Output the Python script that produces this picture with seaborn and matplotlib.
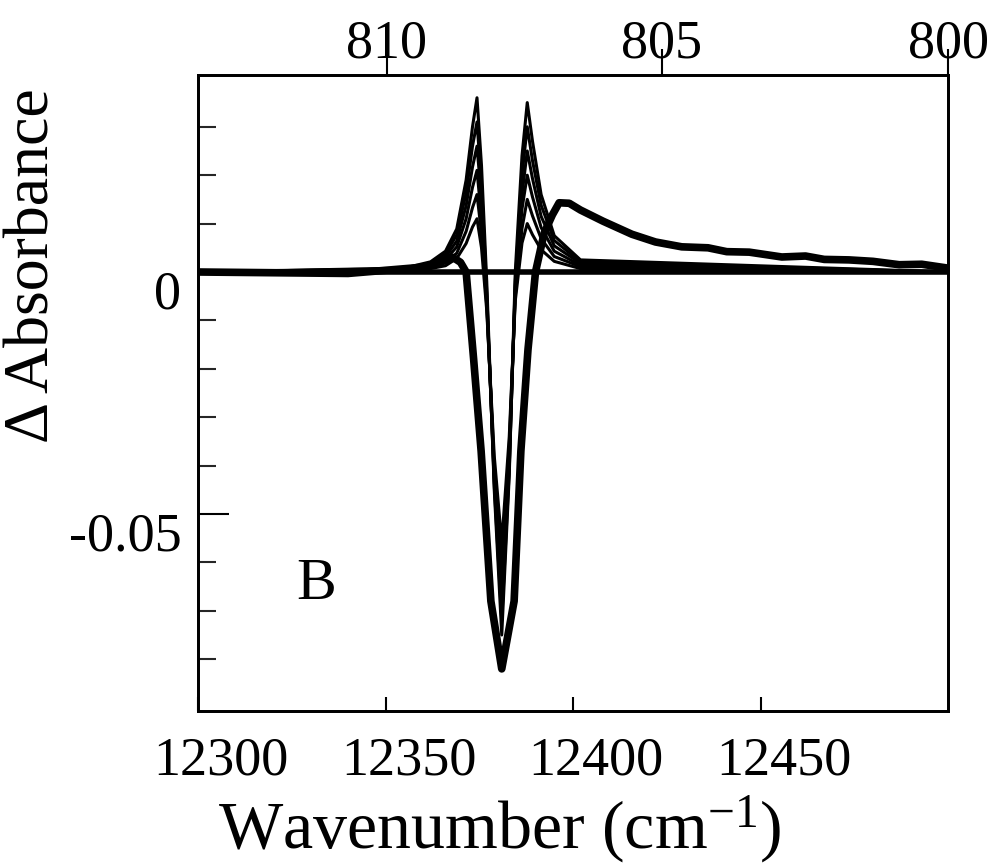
import numpy as np
import pandas as pd
import matplotlib
matplotlib.use("Agg")
import matplotlib.pyplot as plt
from matplotlib.transforms import ScaledTranslation
import seaborn as sns

# ---------------- data ----------------
# thin family of difference spectra, sampled on a common wavenumber grid (cm-1)
X_THIN = [12300, 12355, 12362, 12366, 12369, 12371.5, 12373.2, 12374.4, 12375.6,
          12377, 12379, 12381, 12383, 12384.6, 12386.4, 12387.8, 12389.2, 12391.5,
          12395, 12402, 12500]
THIN_A = [0, .0008, .0021, .0043, .0089, .019, .030, .036, .022, -.002, -.045, -.075,
          -.042, 0, .024, .035, .027, .016, .0075, .0025, 0]
THIN_B = [0, .0007, .0018, .0037, .0077, .0163, .026, .031, .018, -.004, -.044, -.072,
          -.041, -.002, .020, .030, .023, .0138, .0065, .0021, 0]
THIN_C = [0, .0006, .0015, .0031, .0064, .0137, .0217, .026, .015, -.005, -.043, -.068,
          -.040, -.003, .016, .025, .0193, .0115, .0054, .0018, 0]
THIN_D = [0, .0005, .0012, .0025, .0052, .011, .0175, .021, .011, -.006, -.042, -.064,
          -.038, -.004, .013, .020, .0155, .0092, .0043, .0014, 0]
THIN_E = [0, .0004, .0009, .0019, .0039, .0084, .0133, .016, .008, -.007, -.040, -.060,
          -.036, -.005, .009, .015, .0116, .0069, .0032, .0011, 0]
THIN_F = [0, .0003, .0007, .0013, .0028, .0059, .0093, .011, .005, -.008, -.038, -.056,
          -.034, -.006, .006, .010, .0077, .0046, .0022, .0007, 0]

# thick spectrum with broad high-energy tail
X_THICK = [12300, 12340, 12360, 12365, 12368, 12370, 12371.5, 12373.5, 12375.5, 12378.1,
           12381, 12384.3, 12386.1, 12388, 12390, 12392.3, 12394.5, 12396.3, 12399,
           12402, 12408, 12415.7, 12422, 12429, 12436, 12441, 12447, 12455.7, 12462,
           12467, 12473.6, 12480, 12487, 12493, 12500]
Y_THICK = [0.0, -0.0003, 0.001, 0.0022, 0.003, 0.002, 0.0, -0.018, -0.037, -0.068,
           -0.082, -0.068, -0.037, -0.016, 0.0, 0.008, 0.0118, 0.0143, 0.0142,
           0.0128, 0.0105, 0.0078, 0.0062, 0.0052, 0.0050, 0.0042, 0.0041, 0.0031,
           0.0033, 0.0026, 0.0025, 0.0022, 0.0015, 0.0016, 0.0008]

# zero reference spectrum
X_ZERO = [12300, 12500]
Y_ZERO = [0.0, 0.0]

# axis ticks
X_TICKS = [12300, 12350, 12400, 12450]
X_TICKLABELS = ["12300", "12350", "12400", "12450"]
Y_MAJOR = [0.0, -0.05]
Y_MAJOR_LABELS = ["0", "-0.05"]
Y_MINOR = [0.03, 0.02, 0.01, -0.01, -0.02, -0.03, -0.04, -0.06, -0.07, -0.08]
TOP_TICK_POS = [12350.4, 12423.7, 12500]   # positions of the nm ticks (cm-1)
TOP_TICKLABELS = ["810", "805", "800"]

# ---------------- style ----------------
sns.set_theme(style="ticks")
plt.rcParams["font.family"] = ["Liberation Serif", "DejaVu Serif"]
plt.rcParams["mathtext.fontset"] = "custom"
plt.rcParams["mathtext.rm"] = "Liberation Serif"
plt.rcParams["mathtext.default"] = "regular"
plt.rcParams["axes.unicode_minus"] = False

fig = plt.figure(figsize=(9.93, 8.65), dpi=100)
ax = fig.add_axes([198 / 993, 1 - 711 / 865, 750 / 993, 636 / 865])

thin = [THIN_A, THIN_B, THIN_C, THIN_D, THIN_E, THIN_F]
for ys in thin:
    df = pd.DataFrame({"x": X_THIN, "y": ys})
    sns.lineplot(data=df, x="x", y="y", ax=ax, color="black", lw=2.2, sort=False)

sns.lineplot(data=pd.DataFrame({"x": X_ZERO, "y": Y_ZERO}), x="x", y="y", ax=ax,
             color="black", lw=4.0, sort=False)
sns.lineplot(data=pd.DataFrame({"x": X_THICK, "y": Y_THICK}), x="x", y="y", ax=ax,
             color="black", lw=5.5, sort=False)

ax.set_xlim(12300, 12500)
ax.set_ylim(-0.0907, 0.0407)
ax.set_xlabel("")
ax.set_ylabel("")

for s in ax.spines.values():
    s.set_visible(True)
    s.set_linewidth(2.0)
    s.set_color("black")

ax.set_xticks(X_TICKS)
ax.set_xticklabels(X_TICKLABELS)
ax.tick_params(axis="x", which="major", direction="in", length=10, width=1.5,
               pad=16, labelsize=39, colors="black", bottom=True, top=False)

ax.set_yticks(Y_MAJOR)
ax.set_yticklabels(Y_MAJOR_LABELS)
ax.set_yticks(Y_MINOR, minor=True)
ax.tick_params(axis="y", which="major", direction="in", length=22, width=1.5,
               pad=12, labelsize=39, colors="black", left=True, right=False)
ax.tick_params(axis="y", which="minor", direction="in", length=13, width=1.5,
               left=True, right=False)
ax.tick_params(axis="x", which="minor", bottom=False, top=False)

# top wavelength axis (twiny shares the y axis, so only hide its y ticks)
top = ax.twiny()
top.set_xlim(ax.get_xlim())
top.set_xticks(TOP_TICK_POS)
top.set_xticklabels(TOP_TICKLABELS)
top.tick_params(axis="x", which="major", direction="out", length=19, width=1.5,
                pad=-15, labelsize=39, colors="black", top=True, bottom=False)
top.tick_params(axis="x", which="minor", top=False, bottom=False)
top.tick_params(axis="y", which="both", left=False, right=False,
                labelleft=False, labelright=False)
for s in top.spines.values():
    s.set_linewidth(2.0)
    s.set_color("black")

# labels in the reference sit a little off their ticks
yoff = ScaledTranslation(0, -0.17, fig.dpi_scale_trans)
for lbl in ax.get_yticklabels():
    lbl.set_transform(lbl.get_transform() + yoff)
xoff = ScaledTranslation(0.23, -0.03, fig.dpi_scale_trans)
for lbl in ax.get_xticklabels():
    lbl.set_transform(lbl.get_transform() + xoff)

ax.text(12331.5, -0.0647, "B", fontsize=43, ha="center", va="center", color="black")

fig.text(34 / 993, 1 - 266 / 865, "\u0394 Absorbance", rotation=90, fontsize=46,
         ha="center", va="center", color="black")
fig.text(500 / 993, 1 - 830 / 865, "Wavenumber (cm$^{-1}$)", fontsize=49,
         ha="center", va="center", color="black")

fig.savefig("out.png", dpi=100, facecolor="white")
